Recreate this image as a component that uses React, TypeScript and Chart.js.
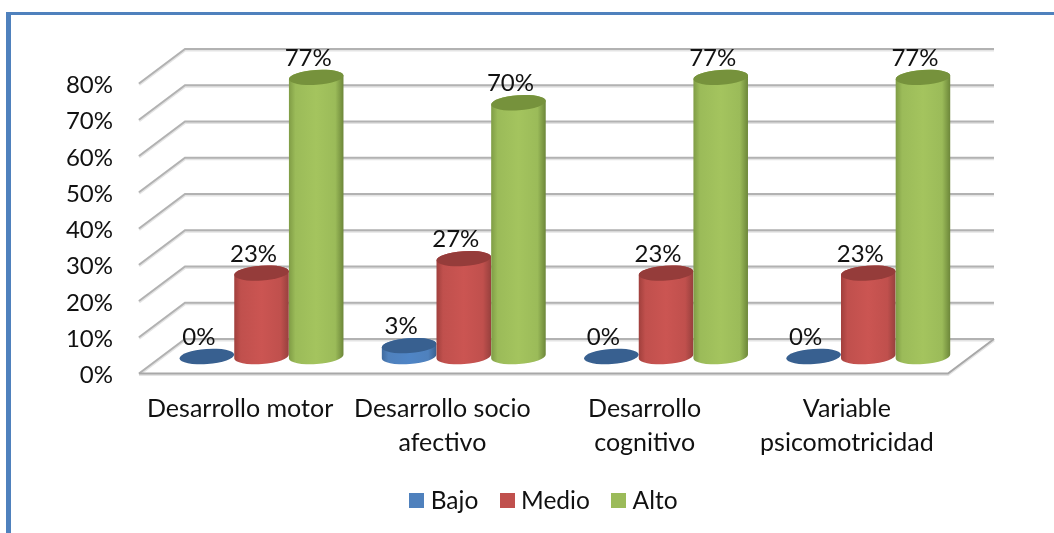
import React, { useEffect, useRef } from "react";
import { Chart, registerables } from "chart.js";

Chart.register(...registerables);

const categories = [
  ["Desarrollo motor"],
  ["Desarrollo socio", "afectivo"],
  ["Desarrollo", "cognitivo"],
  ["Variable", "psicomotricidad"],
];
const bajo = [0, 3, 0, 0];
const medio = [23, 27, 23, 23];
const alto = [77, 70, 77, 77];
const seriesNames = ["Bajo", "Medio", "Alto"];
const seriesColors = ["#4f81bd", "#c0504d", "#9bbb59"];
const topColors = ["#386090", "#953c3a", "#76923c"];
const edgeColors = ["#3f6a9e", "#a03f3c", "#7f9c45"];
const edgeDark = ["#3a6190", "#97403d", "#6c8639"];
const midColors = ["#4f85c6", "#cb5552", "#a4c45e"];

const FONT = "Lato";
const FONT_SIZE = 24;
const TEXT = "#111111";
const DEPTH_X = 46;
const DEPTH_Y = 34.5;
const BAR_SHIFT_X = 21.4;
const BAR_SHIFT_Y = 17;
const RY = 7.5;
const TILT = -0.07;

function legendSwatch(color: string) {
  const c = document.createElement("canvas");
  c.width = 15;
  c.height = 15;
  const g = c.getContext("2d")!;
  g.fillStyle = color;
  g.fillRect(0, 0, 15, 15);
  return c;
}

const cylinderPlugin = {
  id: "cylinders",
  beforeDatasetsDraw(chart: any) {
    const { ctx, chartArea, scales } = chart;
    const y = scales.y;
    const left = chartArea.left;
    const right = chartArea.right;
    ctx.save();
    const stroke = (pts: number[][], color: string, width: number) => {
      ctx.beginPath();
      pts.forEach((p, i) => (i ? ctx.lineTo(p[0], p[1]) : ctx.moveTo(p[0], p[1])));
      ctx.strokeStyle = color;
      ctx.lineWidth = width;
      ctx.stroke();
    };
    // Grid: back wall, left wall and floor
    y.ticks.forEach((t: any) => {
      const py = y.getPixelForValue(t.value);
      const pts = [
        [left, py],
        [left + DEPTH_X, py - DEPTH_Y],
        [right + DEPTH_X, py - DEPTH_Y],
      ];
      stroke(pts.map((p) => [p[0], p[1] + 1]), "#e4e4e4", 3);
      stroke(pts, "#b2b2b2", 2);
    });
    const y0 = y.getPixelForValue(0);
    const floor = [
      [left, y0],
      [right, y0],
      [right + DEPTH_X, y0 - DEPTH_Y],
    ];
    stroke(floor.map((p) => [p[0], p[1] + 1]), "#e4e4e4", 3);
    stroke(floor, "#a8a8a8", 2);

    // Cylinders
    const n = chart.data.labels.length;
    for (let i = 0; i < n; i++) {
      chart.data.datasets.forEach((_: any, d: number) => {
        const bar = chart.getDatasetMeta(d).data[i];
        const cx = bar.x + BAR_SHIFT_X;
        const rx = bar.width / 2;
        const by = bar.base - BAR_SHIFT_Y;
        const ty = bar.y - BAR_SHIFT_Y;
        if (by - ty > 0.5) {
          const g = ctx.createLinearGradient(cx - rx, 0, cx + rx, 0);
          g.addColorStop(0, edgeColors[d]);
          g.addColorStop(0.12, seriesColors[d]);
          g.addColorStop(0.5, midColors[d]);
          g.addColorStop(0.85, seriesColors[d]);
          g.addColorStop(1, edgeDark[d]);
          ctx.beginPath();
          ctx.ellipse(cx, by, rx, RY, TILT, Math.PI, 0, true);
          ctx.ellipse(cx, ty, rx, RY, TILT, 0, Math.PI, true);
          ctx.closePath();
          ctx.fillStyle = g;
          ctx.fill();
        }
        ctx.beginPath();
        ctx.ellipse(cx, ty, rx, RY, TILT, 0, Math.PI * 2);
        ctx.fillStyle = topColors[d];
        ctx.fill();
      });
    }
    ctx.restore();
    return false;
  },
  afterDraw(chart: any) {
    const { ctx } = chart;
    ctx.save();
    ctx.font = `${FONT_SIZE}px ${FONT}`;
    ctx.fillStyle = TEXT;
    ctx.textAlign = "center";
    ctx.textBaseline = "middle";
    chart.data.datasets.forEach((ds: any, d: number) => {
      chart.getDatasetMeta(d).data.forEach((bar: any, i: number) => {
        ctx.fillText(`${ds.data[i]}%`, bar.x + BAR_SHIFT_X - 8, bar.y - BAR_SHIFT_Y - 19);
      });
    });
    ctx.restore();
  },
};

export default function App() {
  const ref = useRef<HTMLCanvasElement>(null);
  useEffect(() => {
    const values = [bajo, medio, alto];
    const font = { family: FONT, size: FONT_SIZE };
    const chart = new Chart(ref.current!, {
      type: "bar",
      data: {
        labels: categories,
        datasets: values.map((data, i) => ({
          label: seriesNames[i],
          data,
          backgroundColor: seriesColors[i],
          categoryPercentage: 0.811,
          barPercentage: 1,
        })),
      },
      options: {
        responsive: false,
        animation: false,
        layout: { padding: { left: 39, right: 0, top: 83.5, bottom: 10 } },
        plugins: {
          tooltip: { enabled: false },
          legend: {
            position: "bottom",
            labels: {
              font: { family: FONT, size: 24.5 },
              color: TEXT,
              usePointStyle: true,
              pointStyleWidth: 3,
              boxHeight: 15,
              padding: 27.5,
              generateLabels: (c: any) =>
                c.data.datasets.map((ds: any, i: number) => ({
                  text: ds.label,
                  datasetIndex: i,
                  fillStyle: ds.backgroundColor,
                  strokeStyle: ds.backgroundColor,
                  lineWidth: 0,
                  fontColor: TEXT,
                  pointStyle: legendSwatch(ds.backgroundColor),
                })),
            },
          },
        },
        scales: {
          x: {
            grid: { display: false },
            border: { display: false },
            ticks: {
              font: { family: FONT, size: 25, lineHeight: 1.37 },
              color: TEXT,
              maxRotation: 0,
              autoSkip: false,
              padding: 10,
            },
            afterFit: (s: any) => {
              s.height = 87.5;
            },
          },
          y: {
            min: 0,
            max: 80,
            grid: { display: false },
            border: { display: false },
            ticks: {
              stepSize: 10,
              font,
              color: TEXT,
              padding: 18,
              labelOffset: 2,
              callback: (v: any) => `${v}%`,
            },
            afterFit: (s: any) => {
              s.width = 100;
            },
          },
          spacer: {
            position: "right",
            grid: { display: false },
            border: { display: false },
            ticks: { display: false },
            afterFit: (s: any) => {
              s.width = 106;
            },
          },
        },
      },
      plugins: [cylinderPlugin],
    } as any);
    return () => chart.destroy();
  }, []);
  return (
    <div style={{ position: "absolute", left: 0, top: 0, width: 1054, height: 533, background: "#fff", overflow: "hidden" }}>
      <canvas ref={ref} width={1054} height={533} style={{ position: "absolute", left: 0, top: 0, display: "block" }} />
      <div
        style={{
          position: "absolute",
          left: 6,
          top: 12,
          right: 0,
          bottom: 0,
          borderTop: "3px solid #4f81bd",
          borderLeft: "5px solid #4f81bd",
        }}
      />
    </div>
  );
}
